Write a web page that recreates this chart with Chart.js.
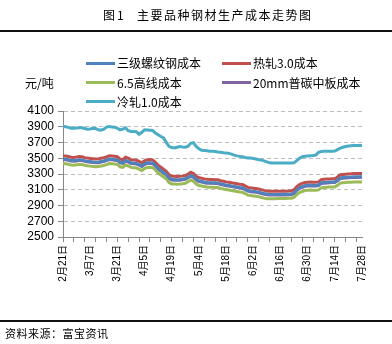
<!DOCTYPE html>
<html>
<head>
<meta charset="utf-8">
<script src="https://cdn.jsdelivr.net/npm/chart.js@4"></script>
<style>
body { margin: 0; background: #fff; }
#wrap { position: relative; width: 392px; height: 344px; overflow: hidden; font-family: "Noto Sans CJK SC", sans-serif; color: #000; }
#wrap canvas { position: absolute; left: 0; top: 0; }
.txt { position: absolute; white-space: nowrap; line-height: 16px; }
.rule { position: absolute; left: 0; width: 392px; height: 2px; background: #111; }
.key { position: absolute; width: 29px; height: 3px; }
</style>
</head>
<body>
<div id="wrap">
	<canvas id="costChart" width="392" height="344"></canvas>
	<div class="txt" style="left:103px;top:7px;font-size:12px;letter-spacing:2px">图1</div>
	<div class="txt" style="left:137px;top:7px;font-size:12px;letter-spacing:1.5px">主要品种钢材生产成本走势图</div>
	<div class="rule" style="top:30px"></div>
	<div class="txt" style="left:25px;top:75px;font-size:12px">元/吨</div>
	<div id="legend"></div>
	<div class="rule" style="top:320px"></div>
	<div class="txt" style="left:5px;top:325px;font-size:11px;letter-spacing:0.5px">资料来源：富宝资讯</div>
</div>
<script>
// x axis labels, one every 10 trading days
var tickLabels = ['2月21日', '3月7日', '3月21日', '4月5日', '4月19日', '5月4日',
	'5月18日', '6月2日', '6月16日', '6月30日', '7月14日', '7月28日'];

var seriesNames = ['三级螺纹钢成本', '热轧3.0成本', '6.5高线成本', '20mm普碳中板成本', '冷轧1.0成本'];
var seriesColors = ['#4f81bd', '#c0504d', '#9bbb59', '#8064a2', '#4bacc6'];

// 元/吨, daily
var rebarCost = [
	3490, 3488, 3482, 3472, 3470, 3475, 3482, 3478, 3468, 3462,
	3458, 3454, 3450, 3452, 3460, 3466, 3478, 3490, 3488, 3484,
	3480, 3450, 3442, 3472, 3460, 3442, 3438, 3434, 3420, 3402,
	3428, 3442, 3444, 3440, 3410, 3370, 3345, 3320, 3295, 3250,
	3232, 3230, 3228, 3230, 3234, 3240, 3260, 3282, 3265, 3232,
	3212, 3205, 3198, 3192, 3190, 3190, 3188, 3186, 3175, 3168,
	3160, 3155, 3148, 3142, 3136, 3130, 3126, 3110, 3090, 3084,
	3080, 3075, 3070, 3060, 3052, 3045, 3042, 3040, 3040, 3041,
	3041, 3042, 3042, 3044, 3045, 3060, 3100, 3125, 3140, 3152,
	3156, 3158, 3156, 3155, 3160, 3188, 3192, 3195, 3198, 3200,
	3200, 3222, 3250, 3255, 3258, 3260, 3262, 3265, 3265, 3266, 3266
];
var hotRolledCost = [
	3530, 3528, 3522, 3512, 3510, 3515, 3522, 3518, 3508, 3502,
	3498, 3494, 3490, 3492, 3500, 3506, 3518, 3530, 3528, 3524,
	3520, 3490, 3482, 3512, 3500, 3482, 3478, 3474, 3460, 3442,
	3468, 3482, 3484, 3480, 3450, 3410, 3385, 3360, 3335, 3290,
	3272, 3270, 3268, 3270, 3274, 3280, 3300, 3322, 3305, 3272,
	3252, 3245, 3238, 3232, 3230, 3230, 3228, 3226, 3215, 3208,
	3200, 3195, 3188, 3182, 3176, 3170, 3166, 3150, 3130, 3124,
	3120, 3115, 3110, 3100, 3092, 3085, 3082, 3080, 3080, 3081,
	3081, 3082, 3082, 3084, 3085, 3100, 3140, 3165, 3180, 3192,
	3196, 3198, 3196, 3195, 3200, 3228, 3232, 3235, 3238, 3240,
	3240, 3262, 3290, 3295, 3298, 3300, 3302, 3305, 3305, 3306, 3306
];
var wireRodCost = [
	3432, 3430, 3424, 3414, 3412, 3416, 3424, 3420, 3410, 3404,
	3400, 3396, 3392, 3394, 3402, 3408, 3420, 3432, 3430, 3426,
	3422, 3392, 3384, 3414, 3402, 3384, 3380, 3376, 3362, 3344,
	3370, 3384, 3386, 3382, 3352, 3312, 3287, 3262, 3237, 3192,
	3174, 3172, 3170, 3172, 3176, 3182, 3202, 3224, 3207, 3174,
	3154, 3147, 3140, 3134, 3132, 3132, 3130, 3128, 3117, 3110,
	3102, 3097, 3090, 3084, 3078, 3072, 3068, 3052, 3032, 3026,
	3022, 3017, 3012, 3002, 2994, 2987, 2986, 2986, 2986, 2988,
	2988, 2989, 2989, 2991, 2992, 3002, 3040, 3064, 3078, 3090,
	3094, 3096, 3094, 3093, 3098, 3124, 3128, 3131, 3134, 3136,
	3136, 3156, 3184, 3189, 3192, 3194, 3196, 3199, 3199, 3200, 3200
];
var plateCost = [
	3482, 3480, 3474, 3464, 3462, 3466, 3474, 3470, 3460, 3454,
	3450, 3446, 3442, 3444, 3452, 3458, 3470, 3482, 3480, 3476,
	3472, 3442, 3434, 3464, 3452, 3434, 3430, 3426, 3412, 3394,
	3420, 3434, 3436, 3432, 3402, 3362, 3337, 3312, 3287, 3242,
	3224, 3222, 3220, 3222, 3226, 3232, 3252, 3274, 3257, 3224,
	3204, 3197, 3190, 3184, 3182, 3182, 3180, 3178, 3167, 3160,
	3152, 3147, 3140, 3134, 3128, 3122, 3118, 3102, 3082, 3076,
	3072, 3067, 3062, 3052, 3044, 3037, 3034, 3032, 3032, 3033,
	3033, 3034, 3034, 3036, 3037, 3052, 3092, 3117, 3132, 3144,
	3148, 3150, 3148, 3147, 3152, 3180, 3184, 3187, 3190, 3192,
	3192, 3214, 3242, 3247, 3250, 3252, 3254, 3257, 3257, 3258, 3258
];
var coldRolledCost = [
	3902, 3900, 3892, 3882, 3880, 3884, 3886, 3886, 3878, 3868,
	3872, 3880, 3878, 3862, 3856, 3870, 3896, 3902, 3898, 3894,
	3880, 3860, 3870, 3886, 3850, 3840, 3840, 3836, 3805, 3830,
	3860, 3858, 3855, 3852, 3820, 3798, 3776, 3758, 3700, 3652,
	3636, 3630, 3640, 3649, 3644, 3640, 3652, 3690, 3698, 3650,
	3620, 3600, 3598, 3594, 3590, 3588, 3586, 3580, 3576, 3570,
	3566, 3562, 3552, 3540, 3530, 3524, 3518, 3510, 3504, 3502,
	3496, 3490, 3482, 3476, 3466, 3454, 3442, 3440, 3440, 3440,
	3440, 3440, 3440, 3440, 3440, 3442, 3470, 3500, 3520, 3524,
	3528, 3532, 3535, 3540, 3575, 3586, 3588, 3588, 3590, 3590,
	3592, 3610, 3628, 3640, 3650, 3656, 3660, 3662, 3662, 3663, 3663
];

window.addEventListener('load', iniciar);

function iniciar() {
	crearLeyenda();
	crearGrafica();
}

function crearLeyenda() {
	var pos = [[86, 63], [222, 63], [86, 82.5], [222, 82.5], [86, 101.5]];
	var legend = document.getElementById('legend');
	seriesNames.forEach(function(name, i) {
		var key = document.createElement('div');
		key.className = 'key';
		key.style.left = pos[i][0] + 'px';
		key.style.top = (pos[i][1] - 1.5) + 'px';
		key.style.background = seriesColors[i];
		legend.appendChild(key);
		var label = document.createElement('div');
		label.className = 'txt';
		label.style.left = (pos[i][0] + 31) + 'px';
		label.style.top = (pos[i][1] - 8) + 'px';
		label.style.fontSize = '12px';
		label.textContent = name;
		legend.appendChild(label);
	});
}

function crearGrafica() {
	var series = [rebarCost, hotRolledCost, wireRodCost, plateCost, coldRolledCost];
	var days = rebarCost.map(function(v, i) { return i; });
	var ctx = document.getElementById('costChart').getContext('2d');
	var costChart = new Chart(ctx, {
		type: 'line',
		data: {
			labels: days,
			datasets: series.map(function(values, i) {
				return {
					label: seriesNames[i],
					data: values,
					borderColor: seriesColors[i],
					backgroundColor: seriesColors[i],
					borderWidth: 3,
					pointRadius: 0,
					tension: 0
				};
			})
		},
		options: {
			responsive: false,
			animation: false,
			layout: { padding: { left: 0, top: 111, right: 30, bottom: 47 } },
			plugins: { legend: { display: false }, tooltip: { enabled: false } },
			scales: {
				x: {
					type: 'category',
					offset: false,
					afterBuildTicks: function(scale) {
						// minor ticks every 4 days, labels every 10
						scale.ticks = scale.ticks.filter(function(t) {
							return t.value % 4 === 0 || t.value % 10 === 0;
						});
					},
					afterFit: function(scale) { scale.height = 60; },
					grid: {
						drawOnChartArea: false,
						drawTicks: true,
						tickLength: 5,
						tickColor: function(c) {
							return c.tick && c.tick.value % 4 === 0 ? '#888888' : 'rgba(0,0,0,0)';
						}
					},
					border: { color: '#888888', width: 1 },
					ticks: {
						autoSkip: false,
						minRotation: 90,
						maxRotation: 90,
						padding: 3,
						color: '#000',
						font: { family: '"Liberation Sans", "Noto Sans CJK SC"', size: 10 },
						callback: function(value) {
							return value % 10 === 0 ? tickLabels[value / 10] : '';
						}
					}
				},
				y: {
					min: 2500,
					max: 4100,
					afterFit: function(scale) { scale.width = 63; },
					grid: {
						color: '#bdbdbd',
						tickLength: 5,
						tickColor: '#888888'
					},
					border: { color: '#888888', width: 1, dash: [4, 3] },
					ticks: {
						stepSize: 200,
						autoSkip: false,
						padding: 4,
						color: '#000',
						font: { family: '"Liberation Sans"', size: 12 },
						callback: function(value) { return String(value); }
					}
				}
			}
		}
	});
}
</script>
</body>
</html>
